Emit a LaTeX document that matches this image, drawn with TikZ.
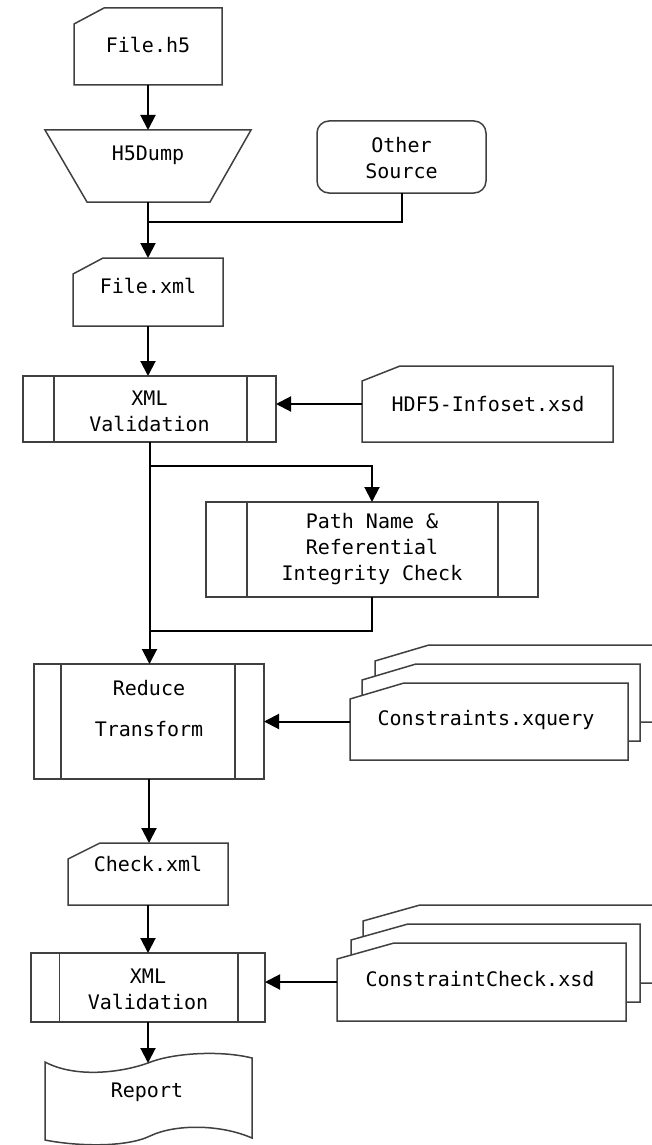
\documentclass[tikz,border=0pt]{standalone}
\usepackage{fontspec}
\setmonofont{DejaVu Sans Mono}
\usetikzlibrary{arrows.meta,calc}
\begin{document}
\begin{tikzpicture}[x=1pt,y=-1pt,
  area/.style={inner sep=0pt,outer sep=0pt,draw=none},
  outl/.style={draw=black!75,line width=1.5pt,fill=white,line join=miter},
  inner/.style={draw=black!75,line width=1.5pt},
  conn/.style={draw=black,line width=2pt},
  arr/.style={conn,-{Triangle[length=15pt,width=15pt]}},
  lbl/.style={font=\ttfamily\fontsize{20}{26}\selectfont,align=center,text=black,inner sep=0pt}]
\fill[white] (0,0) rectangle (652,1145);
\useasboundingbox (0,0) rectangle (652,1145);

% File.h5 card
\node[area,minimum width=148,minimum height=77] (fileh5) at (148,46.5) {};
\draw[outl] ($(fileh5.north west)+(0,16)$) -- ($(fileh5.north west)+(30,0)$) -- (fileh5.north east) -- (fileh5.south east) -- (fileh5.south west) -- cycle;
\node[lbl] (t-fileh5) at (148,45) {File.h5};

% H5Dump trapezoid
\node[area,minimum width=206,minimum height=72] (h5dump) at (148,166) {};
\draw[outl] (h5dump.north west) -- (h5dump.north east) -- ($(h5dump.south east)+(-41,0)$) -- ($(h5dump.south west)+(42,0)$) -- cycle;
\node[lbl] (t-h5dump) at (148,155) {H5Dump};

% Other Source
\node[area,outl,rounded corners=12pt,minimum width=169,minimum height=72] (other) at (401.5,157) {};
\node[lbl] (t-other) at (401.5,158) {Other\\Source};

\coordinate (join1) at (148,222);

% File.xml card
\node[area,minimum width=150,minimum height=68] (filexml) at (148,292) {};
\draw[outl] ($(filexml.north west)+(0,16)$) -- ($(filexml.north west)+(30,0)$) -- (filexml.north east) -- (filexml.south east) -- (filexml.south west) -- cycle;
\node[lbl] (t-filexml) at (148,286) {File.xml};

% XML Validation 1
\node[area,outl,minimum width=253,minimum height=66] (xml1) at (149.5,409) {};
\draw[inner] ($(xml1.north west)+(31,0)$) -- ($(xml1.south west)+(31,0)$);
\draw[inner] ($(xml1.north east)+(-29,0)$) -- ($(xml1.south east)+(-29,0)$);
\node[lbl] (t-xml1) at (149.5,411) {XML\\Validation};

% HDF5-Infoset.xsd card
\node[area,minimum width=251,minimum height=76] (hdf5) at (487.5,404) {};
\draw[outl] ($(hdf5.north west)+(0,15)$) -- ($(hdf5.north west)+(38,0)$) -- (hdf5.north east) -- (hdf5.south east) -- (hdf5.south west) -- cycle;
\node[lbl] (t-hdf5) at (488,404) {HDF5-Infoset.xsd};

\coordinate (join2) at (149.5,466);

% Path Name box
\node[area,outl,minimum width=332,minimum height=95] (path) at (372,549.5) {};
\draw[inner] ($(path.north west)+(41,0)$) -- ($(path.south west)+(41,0)$);
\draw[inner] ($(path.north east)+(-40,0)$) -- ($(path.south east)+(-40,0)$);
\node[lbl] (t-path) at (372,549) {Path Name \&\\Referential\\Integrity Check};

\coordinate (join3) at (149.5,631);

% Reduce Transform
\node[area,outl,minimum width=230,minimum height=115] (reduce) at (149,721.5) {};
\draw[inner] ($(reduce.north west)+(27,0)$) -- ($(reduce.south west)+(27,0)$);
\draw[inner] ($(reduce.north east)+(-29,0)$) -- ($(reduce.south east)+(-29,0)$);
\node[lbl] (t-reduce) at (149,708.5) {Reduce\\[15pt]Transform};

% Constraints.xquery multi-document
\node[area,minimum width=278,minimum height=77] (cxq) at (489,721.5) {};
\fill[white] ($(cxq.north west)+(25,-22)$) -- ($(cxq.north west)+(79,-38)$) -- (652,645) -- (652,722) -- ($(cxq.south west)+(25,-38)$) -- cycle;
\draw[inner] (652,722) -- ($(cxq.south west)+(25,-38)$) -- ($(cxq.north west)+(25,-22)$) -- ($(cxq.north west)+(79,-38)$) -- (652,645);
\draw[outl] ($(cxq.north west)+(12,-3)$) -- ($(cxq.north west)+(66,-19)$) -- ($(cxq.north east)+(12,-19)$) -- ($(cxq.south east)+(12,-19)$) -- ($(cxq.south west)+(12,-19)$) -- cycle;
\draw[outl] ($(cxq.north west)+(0,16)$) -- ($(cxq.north west)+(54,0)$) -- (cxq.north east) -- (cxq.south east) -- (cxq.south west) -- cycle;
\node[lbl] (t-cxq) at (486,720) {Constraints.xquery};

% Check.xml card
\node[area,minimum width=160,minimum height=62] (check) at (148,874) {};
\draw[outl] ($(check.north west)+(0,16)$) -- ($(check.north west)+(32,0)$) -- (check.north east) -- (check.south east) -- (check.south west) -- cycle;
\node[lbl] (t-check) at (148,864) {Check.xml};

% XML Validation 2
\node[area,outl,minimum width=234,minimum height=69] (xml2) at (148,987.5) {};
\draw[inner] ($(xml2.north west)+(28.5,0)$) -- ($(xml2.south west)+(28.5,0)$);
\draw[inner] ($(xml2.north east)+(-27,0)$) -- ($(xml2.south east)+(-27,0)$);
\node[lbl] (t-xml2) at (148,989.5) {XML\\Validation};

% ConstraintCheck.xsd multi-document
\node[area,minimum width=289,minimum height=78] (ccx) at (481.5,982) {};
\fill[white] ($(ccx.north west)+(26,-22)$) -- ($(ccx.north west)+(83,-38)$) -- (652,905) -- (652,983) -- ($(ccx.south west)+(26,-38)$) -- cycle;
\draw[inner] (652,983) -- ($(ccx.south west)+(26,-38)$) -- ($(ccx.north west)+(26,-22)$) -- ($(ccx.north west)+(83,-38)$) -- (652,905);
\draw[outl] ($(ccx.north west)+(14,-3)$) -- ($(ccx.north west)+(71,-19)$) -- ($(ccx.north east)+(14,-19)$) -- ($(ccx.south east)+(14,-19)$) -- ($(ccx.south west)+(14,-19)$) -- cycle;
\draw[outl] ($(ccx.north west)+(0,16)$) -- ($(ccx.north west)+(57,0)$) -- (ccx.north east) -- (ccx.south east) -- (ccx.south west) -- cycle;
\node[lbl] (t-ccx) at (480,979) {ConstraintCheck.xsd};

% Report document
\node[area,minimum width=207,minimum height=85] (report) at (148.5,1097.5) {};
\coordinate (reptop) at (148,1063);
\draw[outl] (45,1062) .. controls (75,1078) and (120,1073) .. (reptop) .. controls (172,1053) and (220,1050) .. (252,1058) -- (252,1138) .. controls (220,1124) and (175,1124) .. (150,1136) .. controls (125,1148) and (75,1146) .. (45,1140) -- cycle;
\node[lbl] (t-report) at (147,1092) {Report};

% connectors
\draw[arr] (fileh5.south) -- (h5dump.north);
\draw[conn] (h5dump.south) -- (join1);
\draw[conn] (other.south) |- (join1);
\draw[arr] (join1) -- (filexml.north);
\draw[arr] (filexml.south) -- (filexml.south |- xml1.north);
\draw[arr] (hdf5.west) -- (hdf5.west -| xml1.east);
\draw[arr] (xml1.south) -- (xml1.south |- reduce.north);
\draw[arr] (join2) -| (path.north);
\draw[conn] (path.south) |- (join3);
\draw[arr] (cxq.west) -- (cxq.west -| reduce.east);
\draw[arr] (reduce.south) -- (reduce.south |- check.north);
\draw[arr] (check.south) -- (xml2.north);
\draw[arr] (ccx.west) -- (ccx.west -| xml2.east);
\draw[arr] (xml2.south) -- (reptop);
\end{tikzpicture}
\end{document}
